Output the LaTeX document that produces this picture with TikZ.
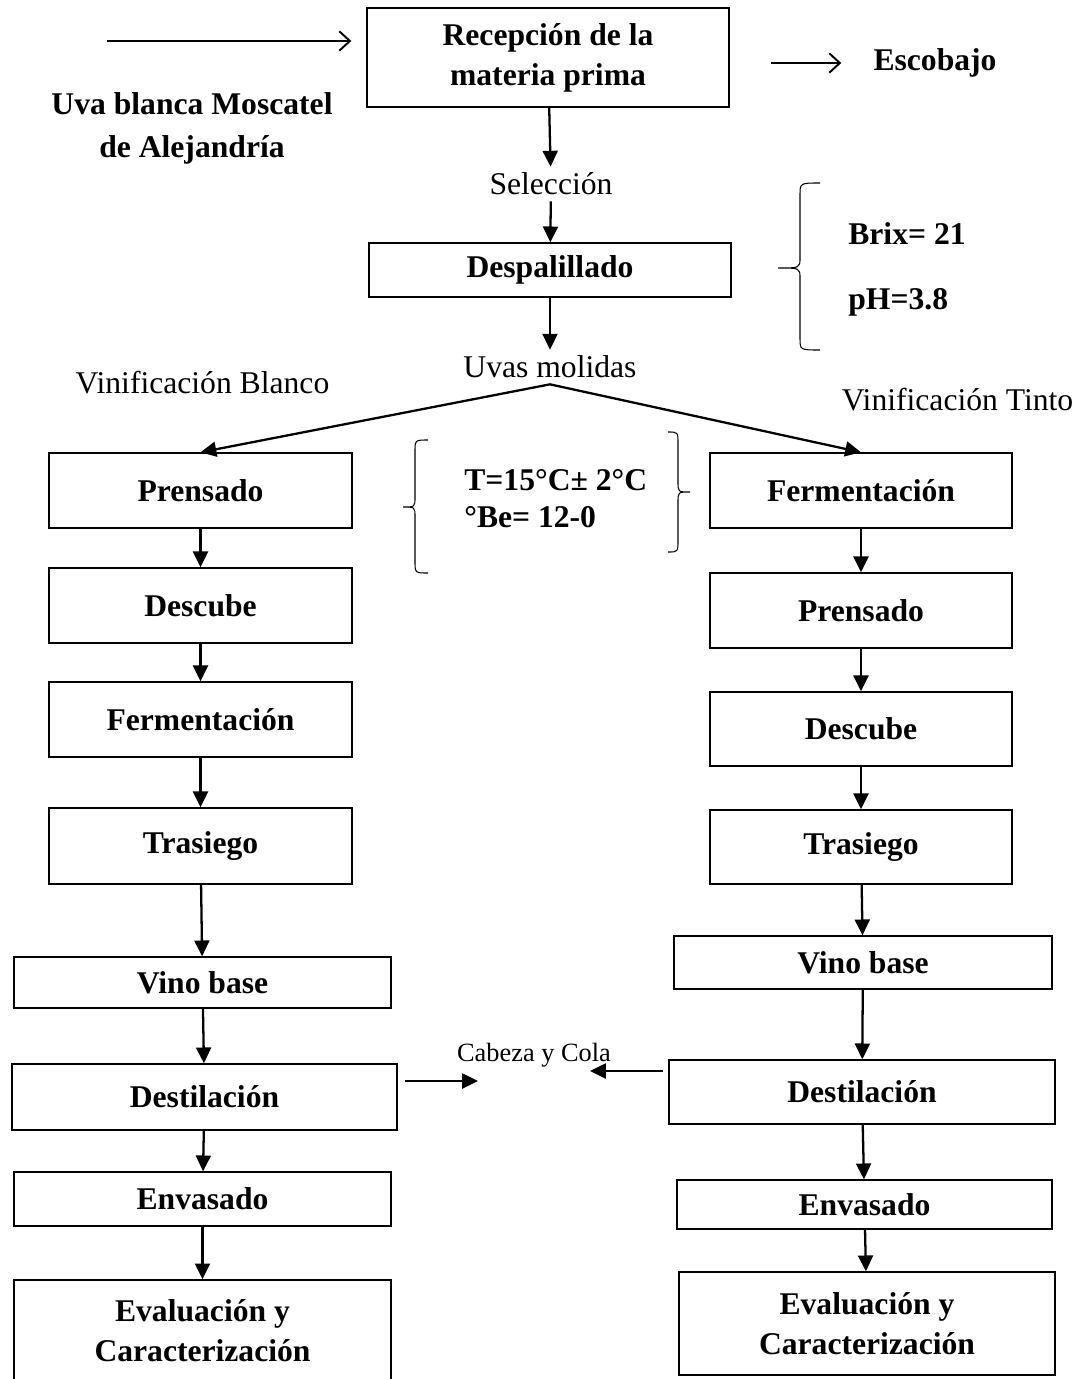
\documentclass[tikz,border=0pt]{standalone}
\usepackage{fontspec}
\setmainfont{Liberation Serif}
\usetikzlibrary{arrows.meta}
\newcommand{\letra}{\fontsize{18}{22.7}\selectfont}
\tikzset{
  paso/.style={draw, line width=0.8pt, font=\letra\bfseries, align=center, inner sep=0pt},
  flecha/.style={-{Triangle[length=9pt,width=8.5pt]}, line width=1.3pt},
  abierta/.style={-{Straight Barb[length=6pt,width=11pt]}, line width=1.1pt},
  dato/.style={font=\letra\bfseries, inner sep=0pt, anchor=west},
}
\newcommand{\caja}[5]{\node [paso, minimum width=#3*0.02cm, minimum height=#4*0.02cm] (#1) at (#2) {#5}}
\newcommand{\llave}[6]{\draw [line width=0.6pt] (#1,#4) .. controls (#2,#4) .. (#2,#4+12) -- (#2,#5-10) .. controls (#2,#5) .. (#3,#5) .. controls (#2,#5) .. (#2,#5+10) -- (#2,#6-12) .. controls (#2,#6) .. (#1,#6)}

\begin{document}
\begin{tikzpicture}[x=0.02cm, y=-0.02cm, font=\letra]
\useasboundingbox (0,0) rectangle (1082,1379);

\caja{Recepcion}{548,57.5}{362}{99}{Recepción de la\\materia prima};
\node (Seleccion) at (551,184) {Selección};
\caja{Despal}{550,270}{362}{54}{Despalillado};
\node (Uvas) at (550,367) {Uvas molidas};

\node [font=\letra\bfseries, align=center] (Uva) at (192,128) {Uva blanca Moscatel\\[1.7pt]de Alejandría};
\coordinate (uvaIni) at (107,41);
\node [font=\letra\bfseries] (Escobajo) at (935,63) {Escobajo};
\coordinate (escIni) at (771,63);

\node [dato] (Brix) at (848,234) {Brix= 21};
\node [dato] (pH) at (848,302) {pH=3.8};
\llave{820}{800}{778}{183}{268}{350};

\node (VinB) at (202.5,383) {Vinificación Blanco};
\node (VinT) at (957.5,400) {Vinificación Tinto};

\node [dato, align=left, font=\fontsize{18}{21}\selectfont\bfseries] (Cond) at (464,499) {T=15°C± 2°C\\°Be= 12-0};
\llave{428}{415}{403}{440}{507}{573};
\llave{668}{678}{690}{432}{492}{552};

\caja{bPrensado}{200.5,490.5}{303}{75}{Prensado};
\caja{bDescube}{200.5,605.5}{303}{75}{Descube};
\caja{bFerm}{200.5,719.5}{303}{75}{Fermentación};
\caja{bTrasiego}{200.5,846}{303}{76}{Trasiego};
\caja{bVino}{202.5,982.5}{377}{51}{Vino base};
\caja{bDest}{204.5,1097}{385}{66}{Destilación};
\caja{bEnvas}{202.5,1199}{377}{54}{Envasado};
\caja{bEval}{202.5,1331}{377}{102}{Evaluación y\\Caracterización};

\caja{tFerm}{861,490.5}{302}{75}{Fermentación};
\caja{tPrensado}{861,610.5}{302}{75}{Prensado};
\caja{tDescube}{861,729}{302}{74}{Descube};
\caja{tTrasiego}{861,847}{302}{74}{Trasiego};
\caja{tVino}{863,962.5}{378}{53}{Vino base};
\caja{tDest}{862,1092}{386}{64}{Destilación};
\caja{tEnvas}{864.5,1204.5}{375}{49}{Envasado};
\caja{tEval}{867,1323.5}{376}{103}{Evaluación y\\Caracterización};

\node [font=\fontsize{15}{18}\selectfont] (Cola) at (534,1055) {Cabeza y Cola};
\coordinate (colaLini) at (405,1081);
\coordinate (colaL) at (478,1081);
\coordinate (colaRini) at (663,1071);
\coordinate (colaR) at (590,1071);

\draw[abierta, shorten >=0.3cm] (uvaIni) -- (uvaIni -| Recepcion.west);
\draw[abierta, shorten >=0.52cm] (escIni) -- (Escobajo);

\draw[flecha] (Recepcion) -- (Seleccion);
\draw[flecha] (Seleccion) -- (Despal);
\draw[flecha] (Despal) -- (Uvas);
\draw[flecha] (Uvas.south) -- (bPrensado.north);
\draw[flecha] (Uvas.south) -- (tFerm.north);

\draw[flecha] (bPrensado) -- (bDescube);
\draw[flecha] (bDescube) -- (bFerm);
\draw[flecha] (bFerm) -- (bTrasiego);
\draw[flecha] (bTrasiego) -- (bVino);
\draw[flecha] (bVino) -- (bDest);
\draw[flecha] (bDest) -- (bEnvas);
\draw[flecha] (bEnvas) -- (bEval);

\draw[flecha] (tFerm) -- (tPrensado);
\draw[flecha] (tPrensado) -- (tDescube);
\draw[flecha] (tDescube) -- (tTrasiego);
\draw[flecha] (tTrasiego) -- (tVino);
\draw[flecha] (tVino) -- (tDest);
\draw[flecha] (tDest) -- (tEnvas);
\draw[flecha] (tEnvas) -- (tEval);

\draw[flecha] (colaLini) -- (colaL);
\draw[flecha] (colaRini) -- (colaR);

\end{tikzpicture}
\end{document}
